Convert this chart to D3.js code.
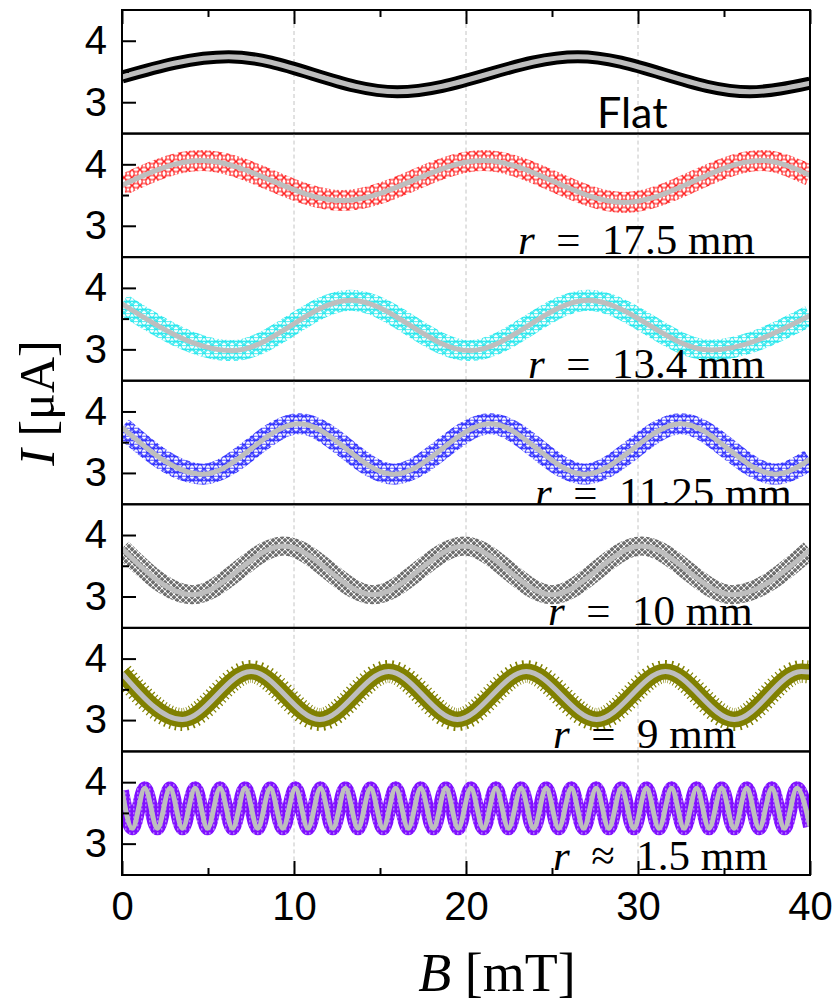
<!DOCTYPE html>
<meta charset="utf-8">
<script src="https://cdnjs.cloudflare.com/ajax/libs/d3/7.8.5/d3.min.js"></script>
<style>
body { margin: 0; background: #fff; }
svg { display: block; }
</style>
<body>
<script>
// axis ticks
var bTicks = [0, 10, 20, 30, 40];
var bMinor = [5, 15, 25, 35];
var iTicks = [3, 4];
var iMinor = [3.5];

// panel labels, top to bottom
var labels = ["Flat", "r = 17.5 mm", "r = 13.4 mm", "r = 11.25 mm", "r = 10 mm", "r = 9 mm", "r \u2248 1.5 mm"];

// fitted curves: [B (mT), I (uA)] at the ends and at each extremum
var flatFit = [[0, 3.41], [6.2, 3.74], [16.0, 3.17], [26.5, 3.74], [36.5, 3.17], [40, 3.31]];
var r175Fit = [[0, 3.66], [4.6, 4.06], [12.8, 3.41], [21.0, 4.06], [29.2, 3.38], [37.2, 4.06], [40, 3.82]];
var r134Fit = [[0, 3.74], [6.4, 2.98], [13.3, 3.80], [20.2, 2.98], [27.1, 3.80], [34.2, 2.99], [40, 3.55]];
var r1125Fit = [[0, 3.74], [4.7, 2.98], [10.3, 3.80], [15.8, 2.98], [21.4, 3.80], [26.9, 2.98], [32.5, 3.80], [38.0, 2.98], [40, 3.22]];
var r10Fit = [[0, 3.78], [4.1, 3.03], [9.4, 3.82], [14.6, 3.03], [19.9, 3.82], [25.0, 3.03], [30.2, 3.82], [35.5, 3.03], [40, 3.76]];
var r9Fit = [[0, 3.76], [3.5, 3.01], [7.5, 3.79], [11.5, 3.01], [15.5, 3.79], [19.5, 3.01], [23.5, 3.79], [27.6, 3.01],
  [31.6, 3.79], [35.6, 3.01], [39.5, 3.79], [40, 3.78]];
var r15Fit = [[0, 3.86], [0.60, 3.25], [1.33, 3.90], [2.06, 3.25], [2.79, 3.90], [3.52, 3.25], [4.25, 3.90], [4.97, 3.25],
  [5.70, 3.90], [6.43, 3.25], [7.16, 3.90], [7.89, 3.25], [8.62, 3.90], [9.35, 3.25], [10.08, 3.90], [10.81, 3.25],
  [11.54, 3.90], [12.26, 3.25], [12.99, 3.90], [13.72, 3.25], [14.45, 3.90], [15.18, 3.25], [15.91, 3.90], [16.64, 3.25],
  [17.37, 3.90], [18.10, 3.25], [18.83, 3.90], [19.55, 3.25], [20.28, 3.90], [21.01, 3.25], [21.74, 3.90], [22.47, 3.25],
  [23.20, 3.90], [23.93, 3.25], [24.66, 3.90], [25.39, 3.25], [26.12, 3.90], [26.84, 3.25], [27.57, 3.90], [28.30, 3.25],
  [29.03, 3.90], [29.76, 3.25], [30.49, 3.90], [31.22, 3.25], [31.95, 3.90], [32.68, 3.25], [33.41, 3.90], [34.13, 3.25],
  [34.86, 3.90], [35.59, 3.25], [36.32, 3.90], [37.05, 3.25], [37.78, 3.90], [38.51, 3.25], [39.24, 3.90], [40, 3.28]];

var fits = [flatFit, r175Fit, r134Fit, r1125Fit, r10Fit, r9Fit, r15Fit];

// look of the measured band in each panel (spikes = ragged edge of filled markers)
var bandStyle = [
  {paint: "#000000", width: 13, spikes: null},
  {paint: "url(#pCircle)", width: 21, spikes: null},
  {paint: "url(#pTriDown)", width: 21, spikes: null},
  {paint: "url(#pTriUp)", width: 21, spikes: null},
  {paint: "url(#pDiamond)", width: 19, spikes: null},
  {paint: "#808000", width: 16, spikes: "#808000"},
  {paint: "url(#pViolet)", width: 14, spikes: null}
];
// where each label sits (start x, baseline y), page coords
var labelPos = [[597, 128], [518, 254], [528, 378], [535, 507], [548, 625], [553, 748], [553, 870]];

var w = 836, h = 1002;
var plotL = 122, plotR = 810, plotT = 10, plotB = 875;
var panelH = (plotB - plotT) / 7;

var svg = d3.select("body").append("svg")
  .attr("width", w)
  .attr("height", h);

var defs = svg.append("defs");

// marker textures
var tile = 8;
var offs = [[0, 0], [tile, 0], [0, tile], [tile, tile], [tile / 2, tile / 2]];
function makePattern(id, size) {
  return defs.append("pattern").attr("id", id)
    .attr("patternUnits", "userSpaceOnUse").attr("width", size).attr("height", size);
}
var pc = makePattern("pCircle", tile);
offs.forEach(function(o) {
  pc.append("circle").attr("cx", o[0]).attr("cy", o[1]).attr("r", 6.2)
    .attr("fill", "none").attr("stroke", "#ff0000").attr("stroke-width", 1);
});
function tri(cx, cy, s, dir) {
  return "M" + (cx - s) + "," + (cy - dir * s * 0.6) + "L" + (cx + s) + "," + (cy - dir * s * 0.6) +
    "L" + cx + "," + (cy + dir * s * 0.9) + "Z";
}
var ptd = makePattern("pTriDown", tile);
offs.forEach(function(o) {
  ptd.append("path").attr("d", tri(o[0], o[1], 6.2, 1))
    .attr("fill", "none").attr("stroke", "#19e6ec").attr("stroke-width", 1);
});
var ptu = makePattern("pTriUp", tile);
offs.forEach(function(o) {
  ptu.append("path").attr("d", tri(o[0], o[1], 6.2, -1))
    .attr("fill", "none").attr("stroke", "#1a1aff").attr("stroke-width", 1);
});
var pd = makePattern("pDiamond", 6);
[[0, 0], [6, 0], [0, 6], [6, 6], [3, 3]].forEach(function(o) {
  pd.append("path").attr("d", "M" + o[0] + "," + (o[1] - 4) + "L" + (o[0] + 4) + "," + o[1] +
      "L" + o[0] + "," + (o[1] + 4) + "L" + (o[0] - 4) + "," + o[1] + "Z")
    .attr("fill", "none").attr("stroke", "#6e6e6e").attr("stroke-width", 1);
});
var pv = makePattern("pViolet", 4);
pv.append("rect").attr("width", 4).attr("height", 4).attr("fill", "#8010ff");
pv.append("rect").attr("x", 1).attr("y", 1).attr("width", 1.5).attr("height", 1.5).attr("fill", "#c8a0ff");

var x = d3.scaleLinear().domain([0, 40]).range([plotL, plotR]);
var y = d3.scaleLinear().domain([2.49, 4.5]).range([panelH, 0]);

var line = d3.line()
  .x(function(d) { return x(d[0]); })
  .y(function(d) { return y(d[1]); })
  .curve(d3.curveMonotoneX);

function styleAxis(g) {
  g.select(".domain").remove();
  g.selectAll(".tick line").attr("stroke", "#000").attr("stroke-width", 2);
  g.selectAll(".tick text").attr("fill", "#000")
    .style("font-family", "'Liberation Sans', Arial, sans-serif").style("font-size", "40px");
}

fits.forEach(function(fit, i) {
  var y0 = plotT + i * panelH;
  var g = svg.append("g").attr("transform", "translate(0," + y0 + ")");

  defs.append("clipPath").attr("id", "clip" + i)
    .append("rect").attr("x", plotL).attr("y", 0).attr("width", plotR - plotL).attr("height", panelH);

  var gc = g.append("g").attr("clip-path", "url(#clip" + i + ")");

  // dashed grid
  gc.selectAll(".grid").data([10, 20, 30]).enter().append("line")
    .attr("x1", function(d) { return x(d); }).attr("x2", function(d) { return x(d); })
    .attr("y1", 0).attr("y2", panelH)
    .attr("stroke", "#c4c4c4").attr("stroke-width", 1).attr("stroke-dasharray", "4,3");

  var st = bandStyle[i];
  if (st.spikes) {
    gc.append("path").datum(fit)
      .attr("d", line)
      .attr("fill", "none")
      .attr("stroke", st.spikes)
      .attr("stroke-width", st.width + 7)
      .attr("stroke-dasharray", "1.2,3.3");
  }

  // measured band
  gc.append("path").datum(fit)
    .attr("d", line)
    .attr("fill", "none")
    .attr("stroke", st.paint)
    .attr("stroke-width", st.width)
    .attr("stroke-linejoin", "round");

  // fit
  gc.append("path").datum(fit)
    .attr("d", line)
    .attr("fill", "none")
    .attr("stroke", "#bebebe")
    .attr("stroke-width", 5);

  // label
  var lp = labelPos[i];
  var t = gc.append("text")
    .attr("x", lp[0]).attr("y", lp[1] - y0)
    .attr("fill", "#000");
  if (labels[i].charAt(0) == "r") {
    var parts = labels[i].split(" ");
    t.style("font-family", "'Liberation Serif', 'Times New Roman', serif").style("font-size", "43px");
    t.append("tspan").style("font-style", "italic").text(parts[0]);
    t.append("tspan").text("\u2002" + parts[1] + "\u2002" + parts.slice(2).join(" "));
  } else {
    t.style("font-family", "Lato, 'Open Sans', sans-serif").style("font-size", "43px").text(labels[i]);
  }

  // frame
  g.append("rect")
    .attr("x", plotL).attr("y", 0)
    .attr("width", plotR - plotL).attr("height", panelH)
    .attr("fill", "none").attr("stroke", "#000").attr("stroke-width", 2);

  // y ticks (inside)
  g.append("g").attr("transform", "translate(" + plotL + ",0)")
    .call(d3.axisLeft(y).tickValues(iTicks).tickSize(-14).tickPadding(15).tickFormat(d3.format("d")))
    .call(styleAxis);
  g.append("g").attr("transform", "translate(" + plotL + ",0)")
    .call(d3.axisLeft(y).tickValues(iMinor).tickSize(-7).tickFormat(""))
    .call(styleAxis);

  if (i == 0) {
    g.append("g").call(d3.axisTop(x).tickValues(bTicks).tickSize(-14).tickFormat("")).call(styleAxis);
    g.append("g").call(d3.axisTop(x).tickValues(bMinor).tickSize(-7).tickFormat("")).call(styleAxis);
  }
  if (i == fits.length - 1) {
    g.append("g").attr("transform", "translate(0," + panelH + ")")
      .call(d3.axisBottom(x).tickValues(bTicks).tickSize(-14).tickPadding(17).tickFormat(d3.format("d")))
      .call(styleAxis);
    g.append("g").attr("transform", "translate(0," + panelH + ")")
      .call(d3.axisBottom(x).tickValues(bMinor).tickSize(-7).tickFormat(""))
      .call(styleAxis);
  }
});

// axis titles
var xt = svg.append("text")
  .attr("x", 497).attr("y", 991)
  .attr("text-anchor", "middle")
  .style("font-family", "'Liberation Serif', 'Times New Roman', serif")
  .style("font-size", "54px");
xt.append("tspan").style("font-style", "italic").text("B");
xt.append("tspan").text(" [mT]");

var yt = svg.append("text")
  .attr("transform", "translate(54,403) rotate(-90)")
  .attr("text-anchor", "middle")
  .style("font-family", "'Liberation Serif', 'Times New Roman', serif")
  .style("font-size", "50px");
yt.append("tspan").style("font-style", "italic").text("I");
yt.append("tspan").text(" [\u03bcA]");
</script>
</body>
